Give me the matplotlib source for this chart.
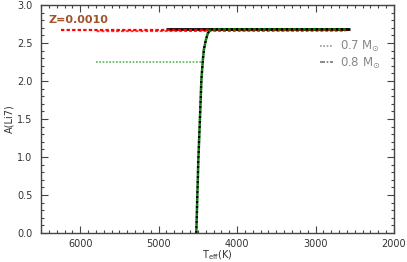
import numpy as np
import matplotlib
matplotlib.use('Agg')
import matplotlib.pyplot as plt
from matplotlib.lines import Line2D
from matplotlib.ticker import MultipleLocator

# Li abundance tracks vs effective temperature
teff_red1 = [6250, 2600]
a_red1 = [2.67, 2.67]
teff_red2 = [5790, 2620]
a_red2 = [2.655, 2.66]
teff_black = [4900, 2560]
a_black = [2.68, 2.68]
teff_green_flat = [5800, 4450]
a_green_flat = [2.25, 2.25]
teff_green_curve = [4520, 4494, 4470, 4455, 4436, 4424, 4398, 4373, 4340, 4320, 2600]
a_green_curve = [0.0, 0.96, 1.6, 2.02, 2.28, 2.41, 2.54, 2.63, 2.67, 2.68, 2.68]

legend_labels = ['0.7 M$_{\\odot}$', '0.8 M$_{\\odot}$']
metal_label = 'Z=0.0010'

plt.rcParams['font.family'] = 'DejaVu Sans'
fig = plt.figure(figsize=(4.07, 2.62), dpi=100)
ax = fig.add_axes([0.1007, 0.1107, 0.8673, 0.8703])

ax.plot(teff_black, a_black, color='black', lw=2.0, solid_capstyle='butt')
ax.plot(teff_red1, a_red1, color='red', lw=1.6, ls=(0, (1.5, 1)))
ax.plot(teff_red2, a_red2, color='red', lw=1.4, ls=(0, (1.5, 1)), alpha=0.8)
ax.plot(teff_green_flat, a_green_flat, color='#2ca02c', lw=1.2, ls=(0, (1, 1)), alpha=0.8)
ax.plot(teff_green_curve, a_green_curve, color='black', lw=1.8, ls=(0, (1, 1)))
ax.plot(teff_green_curve, a_green_curve, color='green', lw=1.8, ls=(1, (1, 1)))

ax.set_xlim(6500, 2000)
ax.set_ylim(0, 3.0)
ax.xaxis.set_major_locator(MultipleLocator(1000))
ax.xaxis.set_minor_locator(MultipleLocator(100))
ax.yaxis.set_major_locator(MultipleLocator(0.5))
ax.yaxis.set_minor_locator(MultipleLocator(0.1))
ax.tick_params(which='both', direction='in', top=True, right=True,
               colors='#444444', labelcolor='#333333', labelsize=7, width=0.8)
ax.tick_params(which='major', length=5)
ax.tick_params(axis='x', which='major', pad=4)
ax.tick_params(axis='y', which='major', pad=6)
ax.tick_params(which='minor', length=2.5)
ax.yaxis.set_major_formatter(matplotlib.ticker.FormatStrFormatter('%.1f'))
for spine in ax.spines.values():
    spine.set_color('#444444')
    spine.set_linewidth(1.0)

ax.set_xlabel('T$_{\\rm eff}$(K)', fontsize=7, color='#333333', labelpad=0)
ax.set_ylabel('A(Li7)', fontsize=7, color='#333333', labelpad=2)

ax.text(0.02, 0.955, metal_label, transform=ax.transAxes, color='#A0522D',
        fontsize=8, fontweight='bold', va='top', ha='left')

handles = [Line2D([], [], color='#999999', lw=1.2, ls=(0, (1, 1))),
           Line2D([], [], color='#777777', lw=1.2, ls=(0, (3, 1, 1, 1)))]
leg = ax.legend(handles, legend_labels, loc='upper left', bbox_to_anchor=(0.79, 0.85),
                frameon=False, fontsize=8.5, handlelength=1.1, handletextpad=0.6,
                labelspacing=0.1, borderpad=0, borderaxespad=0)
for t in leg.get_texts():
    t.set_color('#888888')

fig.savefig('out.png', dpi=100)
